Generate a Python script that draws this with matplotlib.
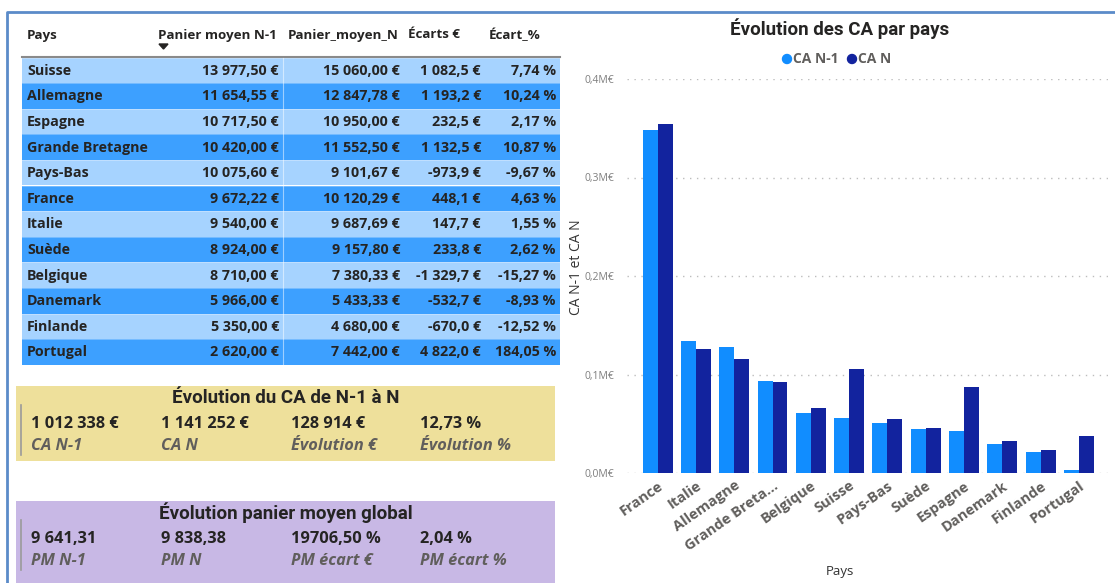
"""Power BI style dashboard: panier moyen table, KPI cards and CA bar chart."""

import matplotlib.pyplot as plt
import numpy as np
from matplotlib.patches import Polygon, Rectangle
from matplotlib.transforms import ScaledTranslation

# ---- table data (sorted by Panier moyen N-1) ----
table_pays = ["Suisse", "Allemagne", "Espagne", "Grande Bretagne", "Pays-Bas", "France",
              "Italie", "Suède", "Belgique", "Danemark", "Finlande", "Portugal"]
panier_n1 = [13977.50, 11654.55, 10717.50, 10420.00, 10075.60, 9672.22,
             9540.00, 8924.00, 8710.00, 5966.00, 5350.00, 2620.00]
panier_n = [15060.00, 12847.78, 10950.00, 11552.50, 9101.67, 10120.29,
            9687.69, 9157.80, 7380.33, 5433.33, 4680.00, 7442.00]
ecarts = [1082.5, 1193.2, 232.5, 1132.5, -973.9, 448.1,
          147.7, 233.8, -1329.7, -532.7, -670.0, 4822.0]
ecart_pct = [7.74, 10.24, 2.17, 10.87, -9.67, 4.63,
             1.55, 2.62, -15.27, -8.93, -12.52, 184.05]
headers = ["Pays", "Panier moyen N-1", "Panier_moyen_N", "Écarts €", "Écart_%"]

# ---- KPI cards ----
ca_values = [1012338, 1141252, 128914, 12.73]
ca_labels = ["CA N-1", "CA N", "Évolution €", "Évolution %"]
pm_values = [9641.31, 9838.38, 19706.50, 2.04]
pm_labels = ["PM N-1", "PM N", "PM écart €", "PM écart %"]

# ---- bar chart data (sorted by CA N-1) ----
chart_pays = ["France", "Italie", "Allemagne", "Grande Breta...", "Belgique", "Suisse",
              "Pays-Bas", "Suède", "Espagne", "Danemark", "Finlande", "Portugal"]
ca_n1 = [348200, 133560, 128200, 93780, 60970, 55910,
         50378, 44620, 42870, 29830, 21400, 2620]
ca_n = [354210, 125940, 115630, 92420, 66423, 105420,
        54610, 45789, 87600, 32600, 23400, 37210]
y_ticks = [0, 100000, 200000, 300000, 400000]

TEXT = "#252423"
SUB = "#605E5C"
BODY_FONT = "Open Sans"
TITLE_FONT = "Roboto"


def fr(v, dec, sep=" "):
    s = f"{v:,.{dec}f}"
    return s.replace(",", "_").replace(".", ",").replace("_", sep)


W, H = 1115, 583
fig = plt.figure(figsize=(W / 100, H / 100), dpi=100)
bg = fig.add_axes([0, 0, 1, 1])
bg.set_xlim(0, W)
bg.set_ylim(H, 0)
bg.axis("off")

# outer frame
bg.plot([7, 7, W], [H, 12, 12], color="#5B8BC9", lw=2, solid_capstyle="butt")

# ---- table ----
col_x = [27, 158, 288, 408, 489]
for x, h in zip(col_x, headers):
    bg.text(x, 35, h, fontsize=9.6, fontweight="bold", family=BODY_FONT,
            color=TEXT, va="center", ha="left")
bg.add_patch(Polygon([[159, 44], [168, 44], [163.5, 49]], closed=True, color="#252423"))

row_top, row_h = 57.5, 25.6
light, dark = "#A6D3FF", "#3DA0FF"
right_x = [279, 400, 481, 556]
for i, pays in enumerate(table_pays):
    y0 = row_top + i * row_h
    bg.add_patch(Rectangle((22, y0), 538, row_h, color=light if i % 2 == 0 else dark, lw=0))
    yc = y0 + row_h / 2 + 0.5
    kw = dict(fontsize=10.3, fontweight="bold", family=BODY_FONT, color=TEXT, va="center")
    bg.text(27, yc, pays, ha="left", **kw)
    bg.text(right_x[0], yc, fr(panier_n1[i], 2) + " €", ha="right", **kw)
    bg.text(right_x[1], yc, fr(panier_n[i], 2) + " €", ha="right", **kw)
    bg.text(right_x[2], yc, fr(ecarts[i], 1) + " €", ha="right", **kw)
    bg.text(right_x[3], yc, fr(ecart_pct[i], 2) + " %", ha="right", **kw)
    bg.plot([22, 560], [y0, y0], color="white", lw=0.6, alpha=0.35)
bg.plot([22, 560], [57, 57], color="#8A8A8A", lw=1.5)
bg.plot([283, 283], [58, row_top + 12 * row_h], color="white", lw=0.8, alpha=0.5)


# ---- KPI cards ----
def card(y_top, y_bot, color, title, values, labels, fmts):
    bg.add_patch(Rectangle((16, y_top), 539, y_bot - y_top, color=color, lw=0))
    bg.text(286, y_top + 12, title, fontsize=13.5, fontweight="bold", family=TITLE_FONT,
            color=TEXT, ha="center", va="center")
    bg.plot([21, 21], [y_top + 19, y_top + 69], color="#9A9A9A", lw=1.2)
    for x, v, lab, f in zip([31, 161, 291, 420], values, labels, fmts):
        bg.text(x, y_top + 38, f(v), fontsize=11.8, fontweight="bold", family=BODY_FONT,
                color=TEXT, ha="left", va="center")
        bg.text(x, y_top + 60, lab, fontsize=11.8, fontweight="bold", style="italic",
                family=BODY_FONT, color=SUB, ha="left", va="center")


money0 = lambda v: fr(v, 0) + " €"
pct2 = lambda v: fr(v, 2) + " %"
card(386, 461, "#EEE09B", "Évolution du CA de N-1 à N", ca_values, ca_labels,
     [money0, money0, money0, pct2])
card(501, 590, "#C8B8E5", "Évolution panier moyen global", pm_values, pm_labels,
     [lambda v: fr(v, 2), lambda v: fr(v, 2), lambda v: fr(v, 2, "") + " %", pct2])

# ---- bar chart ----
ax = fig.add_axes([627 / W, 1 - 473 / H, (1108 - 627) / W, (473 - 79) / H])
x = np.arange(len(chart_pays))
bw = 0.39
ax.bar(x - bw / 2, ca_n1, width=bw, color="#118DFF", zorder=3)
ax.bar(x + bw / 2, ca_n, width=bw, color="#12239E", zorder=3)
ax.set_xlim(-0.8, 11.76)
ax.set_ylim(0, 400000)
ax.set_yticks(y_ticks)
ax.set_yticklabels([fr(v / 1e6, 1) + "M€" for v in y_ticks], fontsize=7.5,
                   color="#7F7F7F", family=BODY_FONT)
ax.set_xticks(x)
ax.set_xticklabels(chart_pays, rotation=35, ha="right", rotation_mode="anchor",
                   fontsize=10.5, fontweight="bold", color=SUB, family=BODY_FONT)
shift = ScaledTranslation(-6 / 100, 0, fig.dpi_scale_trans)
for lab in ax.get_xticklabels():
    lab.set_transform(lab.get_transform() + shift)
ax.tick_params(length=0)
ax.tick_params(axis="y", pad=9)
ax.tick_params(axis="x", pad=4)
ax.grid(axis="y", linestyle=(0, (1, 4)), color="#BDBDBD", lw=1, zorder=0)
for s in ax.spines.values():
    s.set_visible(False)
ax.patch.set_alpha(0)

bg.text(840, 29, "Évolution des CA par pays", fontsize=13.5, fontweight="bold",
        family=TITLE_FONT, color=TEXT, ha="center", va="center")
bg.scatter([787, 852], [59, 59], s=42, color=["#118DFF", "#12239E"], zorder=3)
bg.text(793, 59, "CA N-1", fontsize=10, fontweight="bold", family=BODY_FONT,
        color=SUB, ha="left", va="center")
bg.text(858, 59, "CA N", fontsize=10, fontweight="bold", family=BODY_FONT,
        color=SUB, ha="left", va="center")
bg.text(577, 267, "CA N-1 et CA N", fontsize=10, family=BODY_FONT, color="#333333",
        rotation=90, ha="center", va="center")
bg.text(840, 572, "Pays", fontsize=9.5, family=BODY_FONT, color="#333333",
        ha="center", va="center")

fig.savefig("out.png", dpi=100)
